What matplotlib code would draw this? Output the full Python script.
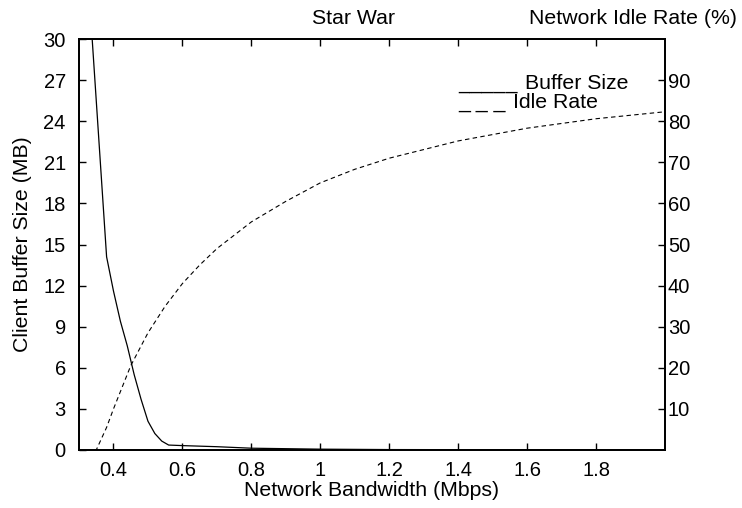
import matplotlib
matplotlib.use('Agg')
import matplotlib.pyplot as plt

plt.rcParams['font.family'] = ['Liberation Sans', 'DejaVu Sans']

# Datos
bw_buffer = [0.32, 0.38, 0.40, 0.42, 0.44, 0.46, 0.48, 0.50, 0.52, 0.54, 0.56,
             0.60, 0.70, 0.80, 1.0, 1.2, 1.5, 2.0]
buffer_mb = [36.9, 14.1, 11.6, 9.4, 7.6, 5.5, 3.7, 2.1, 1.2, 0.65, 0.36,
             0.32, 0.24, 0.13, 0.06, 0.03, 0.02, 0.01]

bw_idle = [0.345, 0.35, 0.38, 0.40, 0.45, 0.50, 0.55, 0.60, 0.65, 0.70, 0.80,
           0.90, 1.0, 1.1, 1.2, 1.4, 1.6, 1.8, 2.0]
idle_pct = [0.0, 0.0, 5.5, 10.0, 20.5, 28.5, 35.0, 40.5, 45.0, 49.0, 55.5,
            60.5, 65.0, 68.3, 71.0, 75.2, 78.3, 80.6, 82.3]

left_ticks = [0, 3, 6, 9, 12, 15, 18, 21, 24, 27, 30]
right_ticks = [10, 20, 30, 40, 50, 60, 70, 80, 90]
x_ticks = [0.4, 0.6, 0.8, 1.0, 1.2, 1.4, 1.6, 1.8]
x_labels = ['0.4', '0.6', '0.8', '1', '1.2', '1.4', '1.6', '1.8']

fs = 14.5   # numeros de los ejes
fl = 15.3   # titulos y leyenda
fig = plt.figure(figsize=(7.42, 5.08), dpi=100)
ax = fig.add_axes([0.1065, 0.1142, 0.7897, 0.809])
ax2 = ax.twinx()

ax.plot(bw_buffer, buffer_mb, color='black', linewidth=0.9)
ax2.plot(bw_idle, idle_pct, color='black', linewidth=0.8, linestyle=(0, (4, 3)))

ax.set_xlim(0.3, 2.0)
ax.set_ylim(0, 30)
ax2.set_ylim(0, 100)

ax.set_xticks(x_ticks)
ax.set_xticklabels(x_labels)
ax.set_yticks(left_ticks)
ax2.set_yticks(right_ticks)

ax.tick_params(axis='x', direction='in', top=True, length=5, width=1, labelsize=fs, pad=8)
ax.tick_params(axis='y', direction='in', right=False, length=5, width=1, labelsize=fs, pad=9.5)
ax2.tick_params(axis='y', direction='in', length=5, width=1, labelsize=fs, pad=2)

for a in (ax, ax2):
    for s in a.spines.values():
        s.set_linewidth(1.3)

ax.set_xlabel('Network Bandwidth (Mbps)', fontsize=fl, labelpad=1)
ax.set_ylabel('Client Buffer Size (MB)', fontsize=fl, labelpad=8)
fig.text(0.477, 0.963, 'Star War', fontsize=fl, ha='center', va='center')
fig.text(0.853, 0.963, 'Network Idle Rate (%)', fontsize=fl, ha='center', va='center')

# Leyenda al estilo gnuplot
fig.text(0.617, 0.836, '_____', fontsize=fl, ha='left', va='center')
fig.text(0.707, 0.836, 'Buffer Size', fontsize=fl, ha='left', va='center')
fig.text(0.617, 0.799, '_ _ _', fontsize=fl, ha='left', va='center')
fig.text(0.691, 0.799, 'Idle Rate', fontsize=fl, ha='left', va='center')

plt.savefig('out.png', dpi=100)
